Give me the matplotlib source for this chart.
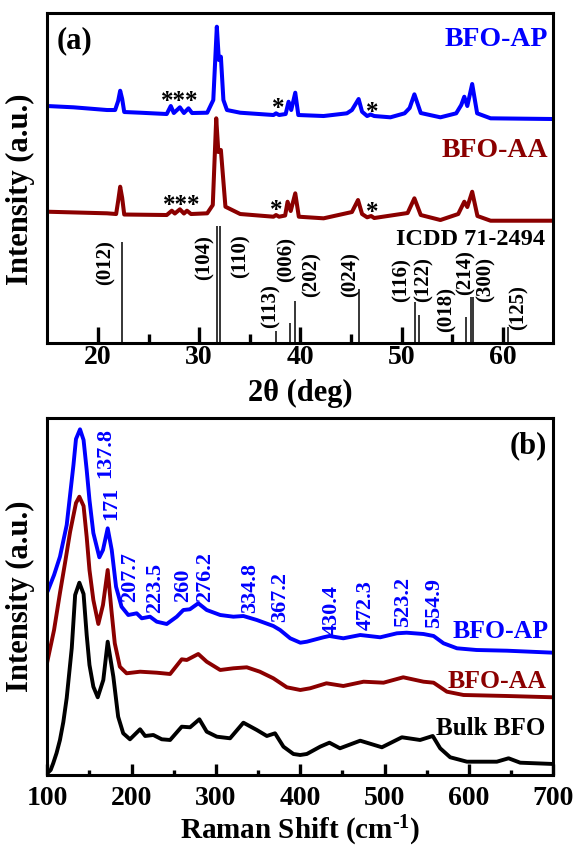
import numpy as np
import matplotlib
matplotlib.use("Agg")
import matplotlib.pyplot as plt

plt.rcParams['font.family'] = ['Liberation Serif', 'DejaVu Serif']
plt.rcParams['font.weight'] = 'bold'
plt.rcParams['mathtext.fontset'] = 'custom'
plt.rcParams['mathtext.rm'] = 'Liberation Serif:bold'
plt.rcParams['mathtext.bf'] = 'Liberation Serif:bold'
plt.rcParams['mathtext.it'] = 'Liberation Serif:bold:italic'

BLUE = '#0000ff'
DRED = '#8b0000'

# ---------------- XRD (panel a) ----------------
xrd_ap_x = [15.0, 17.6, 20.9, 21.7, 22.0, 22.2, 22.4, 22.6, 24.2, 26.8, 27.2, 27.5, 28.1, 28.5, 28.95, 29.3,
            30.8, 31.4, 31.75, 31.95, 32.15, 32.4, 32.75, 34.06, 37.35, 37.6, 37.9, 38.55, 38.84,
            39.1, 39.5, 39.8, 42.3, 44.6, 45.1, 45.76, 46.1, 46.6, 46.95, 47.3, 48.9, 50.3, 50.8,
            51.27, 51.9, 53.84, 55.4, 55.9, 56.2, 56.5, 56.98, 57.47, 58.8, 65.0]
xrd_ap_y = [237, 235.7, 233, 233, 242, 252.3, 244, 231, 230.3, 229, 237, 230, 235.7, 230, 234.7, 230,
            230.3, 243, 316.3, 283, 286.3, 243, 233, 230.3, 228, 229.7, 228, 229, 241.3,
            233, 250.3, 228, 227, 229.7, 233, 244, 231.3, 227, 228.5, 227, 225.7, 229.7, 235,
            248.7, 230, 225.7, 229.7, 238, 246.3, 237, 259, 229.7, 224.7, 224]

xrd_aa_x = [15.0, 20.9, 21.8, 22.0, 22.2, 22.4, 22.6, 26.8, 27.3, 27.6, 28.1, 28.5, 28.8, 29.2, 30.8, 31.35,
            31.69, 31.9, 32.15, 32.6, 34.06, 37.35, 37.6, 37.9, 38.5, 38.74, 39.05, 39.5, 39.85,
            42.3, 45.1, 45.7, 46.1, 46.6, 47.0, 47.3, 50.6, 51.27, 51.9, 53.84, 55.6, 56.2, 56.5,
            56.98, 57.5, 58.8, 65.0]
xrd_aa_y = [131.3, 129.7, 129, 142, 156.3, 145, 128.5, 128, 132.3, 129.5, 133.7, 129.5, 132.3, 129, 129.7, 138,
            224.7, 191, 193, 136.3, 129, 126.3, 128, 126.3, 127.5, 141.3, 132, 149.7, 126.3,
            124.7, 131, 143, 129, 125.7, 127, 125, 130, 144.7, 128, 123, 129, 141.3, 136,
            151.3, 127, 122.3, 122.3]

# ICDD 71-2494 reference lines
icdd_pos = [22.42, 31.75, 32.08, 37.62, 38.94, 39.47, 45.77, 51.3, 51.7, 56.39, 56.9, 57.05, 60.5]
icdd_int = [101.3, 117, 117, 12, 20.3, 42.5, 53.7, 41.3, 28, 26.3, 46.3, 46.3, 16]
hkl = ['(012)', '(104)', '(110)', '(113)', '(006)', '(202)', '(024)', '(116)', '(122)',
       '(018)', '(214)', '(300)', '(125)']
hkl_x = [20.78, 30.5, 34.06, 37.03, 38.68, 41.15, 44.94, 50.05, 52.19, 54.5, 56.31, 58.29, 61.53]
hkl_y = [58, 63, 65, 15, 61.3, 46.3, 46.3, 41.3, 41.3, 11.3, 48, 41.3, 13]

# impurity markers: (text, 2theta, visual centre)
star_ap = [('***', 28.1, 248), ('*', 37.8, 241), ('*', 47.1, 237)]
star_aa = [('***', 28.3, 144), ('*', 37.6, 139), ('*', 47.1, 137)]

# ---------------- Raman (panel b) ----------------
ram_ap_x = [101, 108, 115, 123, 131, 134, 138.8, 143, 146.7, 150, 154.6, 161.7, 166, 171.6, 176.4, 181.5,
            188, 196, 206, 212, 221.8, 229.8, 241.6, 253.5, 261.3, 269, 279, 289, 305, 320.6,
            332.5, 348.4, 368, 376, 388, 400, 407.7, 427.4, 434.5, 451, 471, 494.7, 514.5, 526,
            546, 558, 569.8, 585.7, 609, 645, 700]
ram_ap_y = [185, 200, 218.3, 250, 310, 336, 345.7, 335, 305, 275, 242, 217.7, 225, 246.7, 225, 188.3,
            168.3, 160, 161.7, 156.7, 158.3, 153.3, 151, 158.3, 165, 165.7, 171.7, 165, 160, 158.3,
            159, 155, 149, 145, 136.7, 132.3, 133.3, 137.7, 139, 136.7, 140, 137.7, 141.7, 142.3,
            141, 139, 131.7, 126.7, 125, 124.3, 122.3]

ram_aa_x = [100, 108, 115, 121, 127, 134, 138, 143, 146.7, 150, 154.6, 160.5, 166, 171.6, 176, 180, 186, 194, 210,
            229.8, 245.6, 259.4, 265.4, 279, 289, 305, 320.6, 336.5, 352, 368, 384, 400, 411.6,
            431, 451, 475, 498.6, 522, 546, 558, 573.8, 593.5, 645, 700]
ram_aa_y = [113.3, 145, 182, 212, 243, 272, 278.3, 269, 238, 205, 175, 151, 170, 205, 165, 131.7, 108.3, 101.7, 103.3,
            102.3, 101, 115.7, 115, 121, 113.3, 105, 106.7, 107.7, 103.3, 96.7, 87.7, 85, 86.7,
            91.7, 89, 93.3, 92.3, 97.7, 93.3, 92.3, 83.3, 80, 79, 77.7]

ram_bulk_x = [100, 104, 107, 111, 115, 119, 123, 129, 133, 138, 143, 146.7, 150, 154.6, 159.8, 166.4, 171.6, 178.3, 184,
              190, 198, 210, 216, 225.7, 235.7, 245.6, 259.4, 269.3, 280.3, 289, 301, 316.7,
              332.5, 348.4, 360.3, 370, 380, 391.8, 399.8, 407.7, 423.5, 434.5, 447, 471, 496.7,
              520.4, 542, 557, 565.8, 577.7, 597.5, 633, 646.9, 660.7, 700]
ram_bulk_y = [1.7, 5, 11.7, 22, 35, 53, 77, 127, 180, 192.3, 181, 140, 110, 88.3, 77.7, 95, 133.3, 98.3, 58.3,
              41.7, 35.7, 45.7, 39, 40, 35.7, 35, 48.3, 47.7, 55.7, 43.3, 38.3, 36.7,
              52.3, 45, 39, 41.7, 28.3, 21, 20, 21, 28.3, 32.3, 26.7, 34.3, 27.7,
              37.7, 35, 39, 26.7, 17.7, 13.3, 13.3, 16.7, 12.3, 11]

peak_lbl = ['137.8', '171', '207.7', '223.5', '260', '276.2', '334.8', '367.2',
            '430.4', '472.3', '523.2', '554.9']
peak_lbl_x = [168.4, 176.4, 198, 227.8, 260.6, 287, 340.5, 376, 437.4, 478, 522.4, 558]
peak_lbl_y = [297, 255, 173.3, 161.7, 173.3, 173.3, 161.7, 153.3, 140, 145, 148, 147]

fig = plt.figure(figsize=(5.79, 8.48), dpi=100)
ax1 = fig.add_axes([0.0817, 0.5955, 0.874, 0.3895])
ax2 = fig.add_axes([0.0817, 0.0861, 0.874, 0.4206])

for ax in (ax1, ax2):
    for s in ax.spines.values():
        s.set_linewidth(2.2)
    ax.set_yticks([])
    ax.tick_params(axis='x', which='both', direction='in', top=False, labelsize=20, width=2.4)

# panel a
ax1.plot(xrd_ap_x, xrd_ap_y, color=BLUE, lw=2.9, solid_joinstyle='round')
ax1.plot(xrd_aa_x, xrd_aa_y, color=DRED, lw=2.9, solid_joinstyle='round')
ax1.vlines(icdd_pos, 0, icdd_int, color='black', lw=1.1)
for t, xx, yy in zip(hkl, hkl_x, hkl_y):
    ax1.text(xx, yy, t, rotation=90, ha='center', va='bottom', fontsize=15, fontweight='bold')
for t, xx, yy in star_ap + star_aa:
    ax1.text(xx, yy - 13, t, ha='center', va='baseline', fontsize=18, fontweight='bold')
ax1.set_xlim(15, 65)
ax1.set_ylim(0, 330.3)
ax1.set_xticks([20, 30, 40, 50, 60])
ax1.set_xticks([25, 35, 45, 55], minor=True)
ax1.tick_params(axis='x', which='major', length=11.5, pad=1.5)
ax1.tick_params(axis='x', which='minor', length=6.5)
ax1.set_xlabel('2θ (deg)', fontsize=22, fontweight='bold')
ax1.xaxis.set_label_coords(0.5, -0.11)
ax1.set_ylabel('Intensity (a.u.)', fontsize=22, fontweight='bold')
ax1.yaxis.set_label_coords(-0.024, 0.465)
ax1.text(0.019, 0.916, '(a)', transform=ax1.transAxes, ha='left', va='center', fontsize=22, fontweight='bold')
ax1.text(0.9895, 0.899, 'BFO-AP', transform=ax1.transAxes, ha='right', va='baseline', fontsize=20, fontweight='bold', color=BLUE)
ax1.text(0.9895, 0.564, 'BFO-AA', transform=ax1.transAxes, ha='right', va='baseline', fontsize=20, fontweight='bold', color=DRED)
ax1.text(0.9836, 0.2967, 'ICDD 71-2494', transform=ax1.transAxes, ha='right', va='baseline', fontsize=17.5, fontweight='bold')

# panel b
ax2.plot(ram_ap_x, ram_ap_y, color=BLUE, lw=2.8, solid_joinstyle='round')
ax2.plot(ram_aa_x, ram_aa_y, color=DRED, lw=2.8, solid_joinstyle='round')
ax2.plot(ram_bulk_x, ram_bulk_y, color='black', lw=2.8, solid_joinstyle='round')
for t, xx, yy in zip(peak_lbl, peak_lbl_x, peak_lbl_y):
    ax2.text(xx, yy, t, rotation=90, ha='center', va='bottom', fontsize=16, fontweight='bold', color=BLUE)
ax2.set_xlim(100, 700)
ax2.set_ylim(0, 356.7)
ax2.set_xticks([100, 200, 300, 400, 500, 600, 700])
ax2.set_xticks([150, 250, 350, 450, 550, 650], minor=True)
ax2.tick_params(axis='x', which='major', length=8, pad=8)
ax2.tick_params(axis='x', which='minor', length=3.6)
ax2.set_xlabel(r'Raman Shift (cm$^{\text{-1}}$)', fontsize=21, fontweight='bold')
ax2.xaxis.set_label_coords(0.5, -0.108)
ax2.set_ylabel('Intensity (a.u.)', fontsize=22, fontweight='bold')
ax2.yaxis.set_label_coords(-0.024, 0.5)
ax2.text(0.9875, 0.9224, '(b)', transform=ax2.transAxes, ha='right', va='center', fontsize=22, fontweight='bold')
ax2.text(0.9915, 0.384, 'BFO-AP', transform=ax2.transAxes, ha='right', va='baseline', fontsize=18.5, fontweight='bold', color=BLUE)
ax2.text(0.9875, 0.2439, 'BFO-AA', transform=ax2.transAxes, ha='right', va='baseline', fontsize=18.5, fontweight='bold', color=DRED)
ax2.text(0.9836, 0.1121, 'Bulk BFO', transform=ax2.transAxes, ha='right', va='baseline', fontsize=18, fontweight='bold')

fig.savefig('out.png', dpi=100)
